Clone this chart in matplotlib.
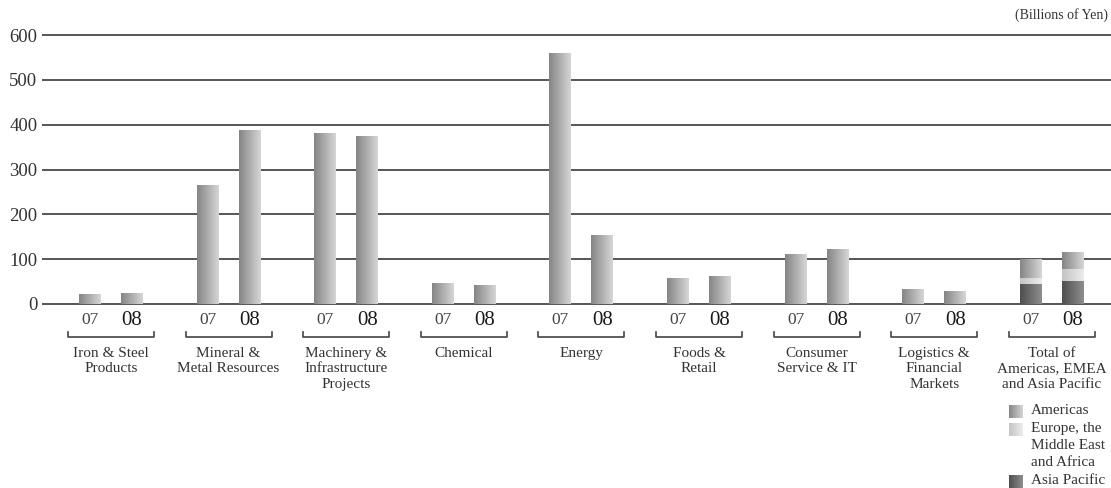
import numpy as np
import matplotlib
matplotlib.use("Agg")
import matplotlib.pyplot as plt
from matplotlib.colors import LinearSegmentedColormap

plt.rcParams['font.family'] = ['Liberation Serif', 'DejaVu Serif']

categories = ["Iron & Steel\nProducts", "Mineral &\nMetal Resources",
              "Machinery &\nInfrastructure\nProjects", "Chemical", "Energy",
              "Foods &\nRetail", "Consumer\nService & IT",
              "Logistics &\nFinancial\nMarkets"]
fy07 = [22, 265, 382, 46, 560, 57, 112, 33]
fy08 = [25, 389, 375, 42, 154, 63, 123, 28]

# regional totals (stacked bottom to top)
total_label = "Total of\nAmericas, EMEA\nand Asia Pacific"
asia_pacific = [44, 52]
emea = [15, 26]
americas = [41, 38]

yticks = [0, 100, 200, 300, 400, 500, 600]

GREY = ("#858585", "#d6d6d6")
LIGHT = ("#c4c4c4", "#ececec")
DARK = ("#4f4f4f", "#8e8e8e")

fig = plt.figure(figsize=(11.11, 4.88), dpi=100)
ax = fig.add_axes([43 / 1111, 1 - 304 / 488, 1 - 43 / 1111, 269 / 488])

off = 0.179
width = 0.187
grad = np.linspace(0, 1, 64).reshape(1, -1)


def shade(rects, colors):
    cmap = LinearSegmentedColormap.from_list("g", colors)
    for r in rects:
        x, y = r.get_xy()
        w, h = r.get_width(), r.get_height()
        im = ax.imshow(grad, extent=[x, x + w, y, y + h], cmap=cmap,
                       aspect="auto", zorder=3, interpolation="bilinear")
        im.set_clip_path(r)


n = len(categories)
idx = np.arange(n)
b07 = ax.bar(idx - off, fy07, width, color="none", zorder=3)
b08 = ax.bar(idx + off, fy08, width, color="none", zorder=3)
shade(b07, GREY)
shade(b08, GREY)

tx = np.array([n - off, n + off])
ap = ax.bar(tx, asia_pacific, width, color="none", zorder=3)
em = ax.bar(tx, emea, width, bottom=asia_pacific, color="none", zorder=3)
am = ax.bar(tx, americas, width, bottom=np.add(asia_pacific, emea),
            color="none", zorder=3)
shade(ap, DARK)
shade(em, LIGHT)
shade(am, GREY)

ax.set_xlim(-0.578, 8.503)
ax.set_ylim(0, 600)
for s in ax.spines.values():
    s.set_visible(False)
ax.set_yticks(yticks)
ax.set_yticklabels([str(t) for t in yticks], fontsize=13.5, color="#333333")
ax.tick_params(axis="y", length=0, pad=4)
ax.set_xticks([])
for t in yticks:
    ax.axhline(t, color="#555555", lw=1.4, zorder=2, clip_on=False)

trans = ax.get_xaxis_transform()
labels = categories + [total_label]
for i, lab in enumerate(labels):
    ax.text(i - off, -0.06, "07", transform=trans, ha="center", va="center",
            fontsize=12.5, color="#444444")
    ax.text(i + off, -0.06, "08", transform=trans, ha="center", va="center",
            fontsize=15, color="#1a1a1a")
    # bracket under each pair
    ax.plot([i - 0.366, i - 0.366, i + 0.366, i + 0.366],
            [-0.105, -0.123, -0.123, -0.105], transform=trans,
            color="#444444", lw=1.2, clip_on=False)
    ax.text(i, -0.158, lab, transform=trans, ha="center", va="top",
            fontsize=11, color="#333333", linespacing=1.25)

fig.text(1108 / 1111, 1 - 15 / 488, "(Billions of Yen)", ha="right",
         va="center", fontsize=10, color="#333333")

# legend
legend_items = [("Americas", GREY, 411), ("Europe, the\nMiddle East\nand Africa", LIGHT, 429),
                ("Asia Pacific", DARK, 481)]
for text, cols, ypx in legend_items:
    sq = fig.add_axes([1009 / 1111, 1 - (ypx + 7) / 488, 14 / 1111, 13 / 488])
    sq.imshow(grad, cmap=LinearSegmentedColormap.from_list("g", cols),
              aspect="auto")
    sq.axis("off")
    fig.text(1031 / 1111, 1 - (ypx - 7) / 488, text, ha="left", va="top",
             fontsize=11, color="#333333", linespacing=1.38)

fig.savefig("out.png", dpi=100)
